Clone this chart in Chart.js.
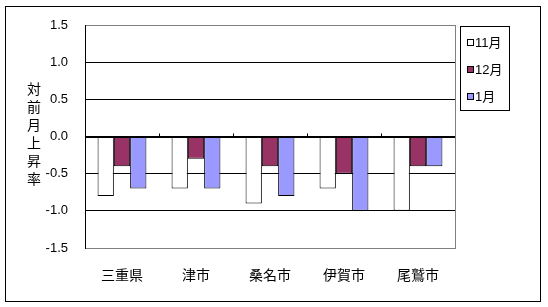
<!DOCTYPE html>
<html>
<head>
<meta charset="utf-8">
<script src="https://cdn.jsdelivr.net/npm/chart.js@4"></script>
<style>
    html, body { margin: 0; padding: 0; background: #fff; }
    canvas { display: block; }
</style>
</head>
<body>
<canvas id="chart" width="548" height="307"></canvas>
<script>
// datos
const categories = ['三重県', '津市', '桑名市', '伊賀市', '尾鷲市'];
const seriesNames = ['11月', '12月', '1月'];
const nov = [-0.8, -0.7, -0.9, -0.7, -1.0];
const dec = [-0.4, -0.3, -0.4, -0.5, -0.4];
const jan = [-0.7, -0.7, -0.8, -1.0, -0.4];
const yTitle = '対前月上昇率';

const FONT = '"Liberation Sans", "Noto Sans CJK JP", sans-serif';

// marco exterior, ejes, leyenda y titulo vertical
const decoPlugin = {
    id: 'deco',
    beforeDatasetsDraw(chart) {
        const ctx = chart.ctx;
        const a = chart.chartArea;
        ctx.save();
        ctx.strokeStyle = '#808080';
        ctx.lineWidth = 1;
        ctx.strokeRect(a.left + 0.5, a.top + 0.5, a.right - a.left, a.bottom - a.top);
        ctx.restore();
    },
    afterDatasetsDraw(chart) {
        const ctx = chart.ctx;
        const a = chart.chartArea;
        const x = chart.scales.x;
        const y = chart.scales.y;
        const y0 = Math.round(y.getPixelForValue(0)) + 0.5;
        ctx.save();
        ctx.strokeStyle = '#000';
        ctx.lineWidth = 1;
        // linea del cero
        ctx.beginPath();
        ctx.moveTo(a.left, y0);
        ctx.lineTo(a.right, y0);
        // marcas entre categorias
        for (let i = 1; i < categories.length; i++) {
            const px = Math.round((x.getPixelForValue(i - 1) + x.getPixelForValue(i)) / 2) + 0.5;
            ctx.moveTo(px, y0);
            ctx.lineTo(px, y0 - 4);
        }
        // eje izquierdo
        ctx.moveTo(a.left + 0.5, a.top);
        ctx.lineTo(a.left + 0.5, a.bottom + 1);
        ctx.stroke();
        ctx.restore();
    },
    afterDraw(chart) {
        const ctx = chart.ctx;
        ctx.save();
        ctx.strokeStyle = '#000';
        ctx.lineWidth = 1;
        ctx.strokeRect(5.5, 6.5, 535, 295);
        // titulo vertical
        ctx.fillStyle = '#000';
        ctx.font = '14px ' + FONT;
        ctx.textAlign = 'center';
        ctx.textBaseline = 'middle';
        [...yTitle].forEach((ch, i) => ctx.fillText(ch, 34, 90 + i * 18));
        // leyenda
        ctx.strokeRect(460.5, 26.5, 49, 84);
        ctx.font = '13px ' + FONT;
        ctx.textAlign = 'left';
        chart.data.datasets.forEach((ds, i) => {
            const ly = 43 + i * 27;
            ctx.fillStyle = ds.backgroundColor;
            ctx.fillRect(467, ly - 4, 7, 7);
            ctx.strokeRect(467.5, ly - 3.5, 6, 6);
            ctx.fillStyle = '#000';
            ctx.fillText(ds.label, 475, ly);
        });
        ctx.restore();
    }
};

const datasets = [
    { label: seriesNames[0], data: nov, backgroundColor: '#ffffff' },
    { label: seriesNames[1], data: dec, backgroundColor: '#993366' },
    { label: seriesNames[2], data: jan, backgroundColor: '#9999ff' }
].map(d => Object.assign(d, {
    borderColor: '#000',
    borderWidth: 1,
    borderSkipped: false,
    categoryPercentage: 0.66,
    barPercentage: 1.0
}));

new Chart(document.getElementById('chart'), {
    type: 'bar',
    data: { labels: categories, datasets: datasets },
    options: {
        responsive: false,
        animation: false,
        events: [],
        layout: { padding: { left: 0, top: 25, right: 93, bottom: 0 } },
        plugins: { legend: { display: false }, tooltip: { enabled: false } },
        scales: {
            x: {
                grid: { display: false },
                border: { display: false },
                ticks: { color: '#000', font: { size: 14, family: FONT }, padding: 12, maxRotation: 0 },
                afterFit: s => { s.height = 59; }
            },
            y: {
                min: -1.5,
                max: 1.5,
                grid: {
                    color: c => (c.tick.value === 1.5 || c.tick.value === -1.5) ? '#808080' : '#000',
                    drawTicks: false
                },
                border: { display: false },
                ticks: {
                    stepSize: 0.5,
                    color: '#000',
                    padding: 17,
                    font: { size: 13, family: FONT },
                    callback: v => v.toFixed(1)
                },
                afterFit: s => { s.width = 85; }
            }
        }
    },
    plugins: [decoPlugin]
});
</script>
</body>
</html>
